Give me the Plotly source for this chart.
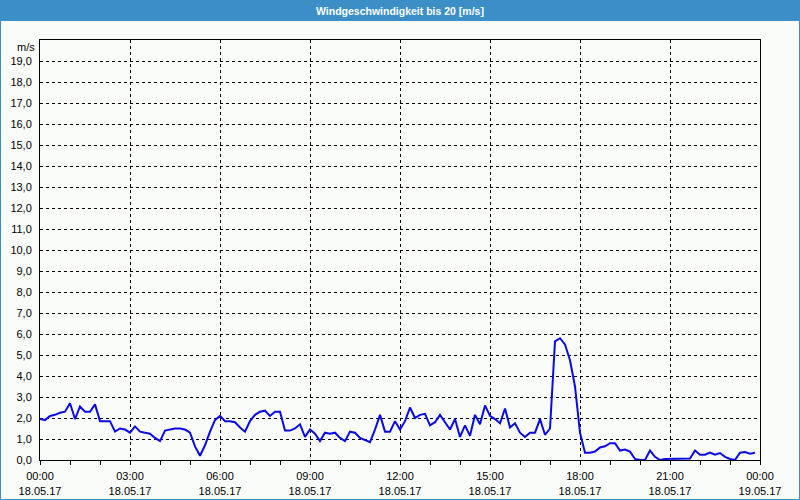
import plotly.graph_objects as go
import pandas as pd

# Wind speed, 10-minute samples from 18.05.17 00:00 to 23:50 (m/s)
speed = [
    1.95, 1.9, 2.1, 2.15, 2.25, 2.3, 2.7, 1.95, 2.55, 2.3, 2.3, 2.65,
    1.85, 1.85, 1.85, 1.35, 1.5, 1.45, 1.3, 1.6, 1.35, 1.3, 1.25, 1.05,
    0.9, 1.4, 1.45, 1.5, 1.5, 1.45, 1.3, 0.65, 0.2, 0.7, 1.35, 1.9,
    2.1, 1.85, 1.85, 1.8, 1.55, 1.35, 1.85, 2.15, 2.3, 2.35, 2.1, 2.3,
    2.3, 1.4, 1.4, 1.5, 1.7, 1.1, 1.45, 1.25, 0.9, 1.3, 1.25, 1.3,
    1.05, 0.9, 1.35, 1.3, 1.05, 0.95, 0.85, 1.45, 2.15, 1.35, 1.35, 1.85,
    1.45, 1.85, 2.5, 2.0, 2.15, 2.2, 1.65, 1.8, 2.15, 1.8, 1.45, 1.95,
    1.1, 1.65, 1.15, 2.15, 1.7, 2.6, 2.1, 1.95, 1.75, 2.45, 1.55, 1.75,
    1.3, 1.1, 1.3, 1.3, 1.95, 1.2, 1.5, 5.65, 5.8, 5.5, 4.75, 3.5,
    1.3, 0.35, 0.35, 0.4, 0.6, 0.65, 0.8, 0.8, 0.45, 0.5, 0.4, 0.05,
    0.0, 0.0, 0.45, 0.15, 0.0, 0.05, 0.05, 0.07, 0.07, 0.07, 0.07, 0.45,
    0.25, 0.25, 0.35, 0.25, 0.33, 0.15, 0.05, 0.0, 0.35, 0.38, 0.3, 0.35,
]
times = pd.date_range("2017-05-18 00:00", periods=len(speed), freq="10min")

y_ticks = list(range(0, 20))
y_labels = [f"{v},0" for v in y_ticks]
title_text = "Windgeschwindigkeit bis 20 [m/s]"
unit_text = "m/s"

BLUE_FRAME = "#3b8fc6"
BG = "#fafcfa"
FONT = "Liberation Sans, Arial, sans-serif"

fig = go.Figure()
fig.add_trace(go.Scatter(
    x=times, y=speed, mode="lines",
    line=dict(color="#0a0ae6", width=2),
    hoverinfo="skip",
))

W, H = 800, 500
L, R, T, B = 40, 40, 40, 40
pw, ph = W - L - R, H - T - B

def px(xp):
    return (xp - L) / pw

def py(yp):
    return (H - B - yp) / ph

fig.update_layout(
    width=W, height=H,
    margin=dict(l=L, r=R, t=T, b=B, autoexpand=False),
    paper_bgcolor=BG, plot_bgcolor=BG,
    showlegend=False,
    font=dict(family=FONT, size=11, color="#000000"),
    xaxis=dict(
        type="date",
        automargin=False,
        range=["2017-05-18 00:00", "2017-05-19 00:00"],
        dtick=3 * 3600 * 1000,
        tick0="2017-05-18 00:00",
        tickformat="%H:%M<br>%d.%m.%y",
        ticks="outside", ticklen=4, tickcolor="#000000", tickwidth=1,
        ticklabelstandoff=2,
        minor=dict(dtick=3600 * 1000, ticks="outside", ticklen=4,
                   tickcolor="#000000", showgrid=False),
        showgrid=True, gridcolor="#000000", gridwidth=1, griddash="3px,3px",
        showline=True, linecolor="#000000", linewidth=1, mirror=True,
        zeroline=False, fixedrange=True,
        tickfont=dict(family=FONT, size=11, color="#000000"),
    ),
    yaxis=dict(
        automargin=False,
        range=[0, 20],
        tickvals=y_ticks, ticktext=y_labels,
        ticks="", ticklabelstandoff=5,
        showgrid=True, gridcolor="#000000", gridwidth=1, griddash="3px,3px",
        showline=True, linecolor="#000000", linewidth=1, mirror=True,
        zeroline=False, fixedrange=True,
        tickfont=dict(family=FONT, size=11, color="#000000"),
    ),
    shapes=[
        dict(type="rect", xref="paper", yref="paper", layer="below",
             x0=px(0), x1=px(800), y0=py(21), y1=py(0),
             fillcolor=BLUE_FRAME, line=dict(width=0)),
        dict(type="rect", xref="paper", yref="paper", layer="above",
             x0=px(0.5), x1=px(799.5), y0=py(499.5), y1=py(0.5),
             fillcolor="rgba(0,0,0,0)", line=dict(color=BLUE_FRAME, width=1)),
    ],
    annotations=[
        dict(text=title_text, xref="paper", yref="paper",
             x=px(400), y=py(10.5), xanchor="center", yanchor="middle",
             showarrow=False,
             font=dict(family=FONT, size=10.5, color="#ffffff", weight="bold")),
        dict(text=unit_text, xref="paper", yref="paper",
             x=px(37), y=py(47), xanchor="right", yanchor="middle",
             showarrow=False,
             font=dict(family=FONT, size=11, color="#000000")),
    ],
)

fig.write_html("out.html")
